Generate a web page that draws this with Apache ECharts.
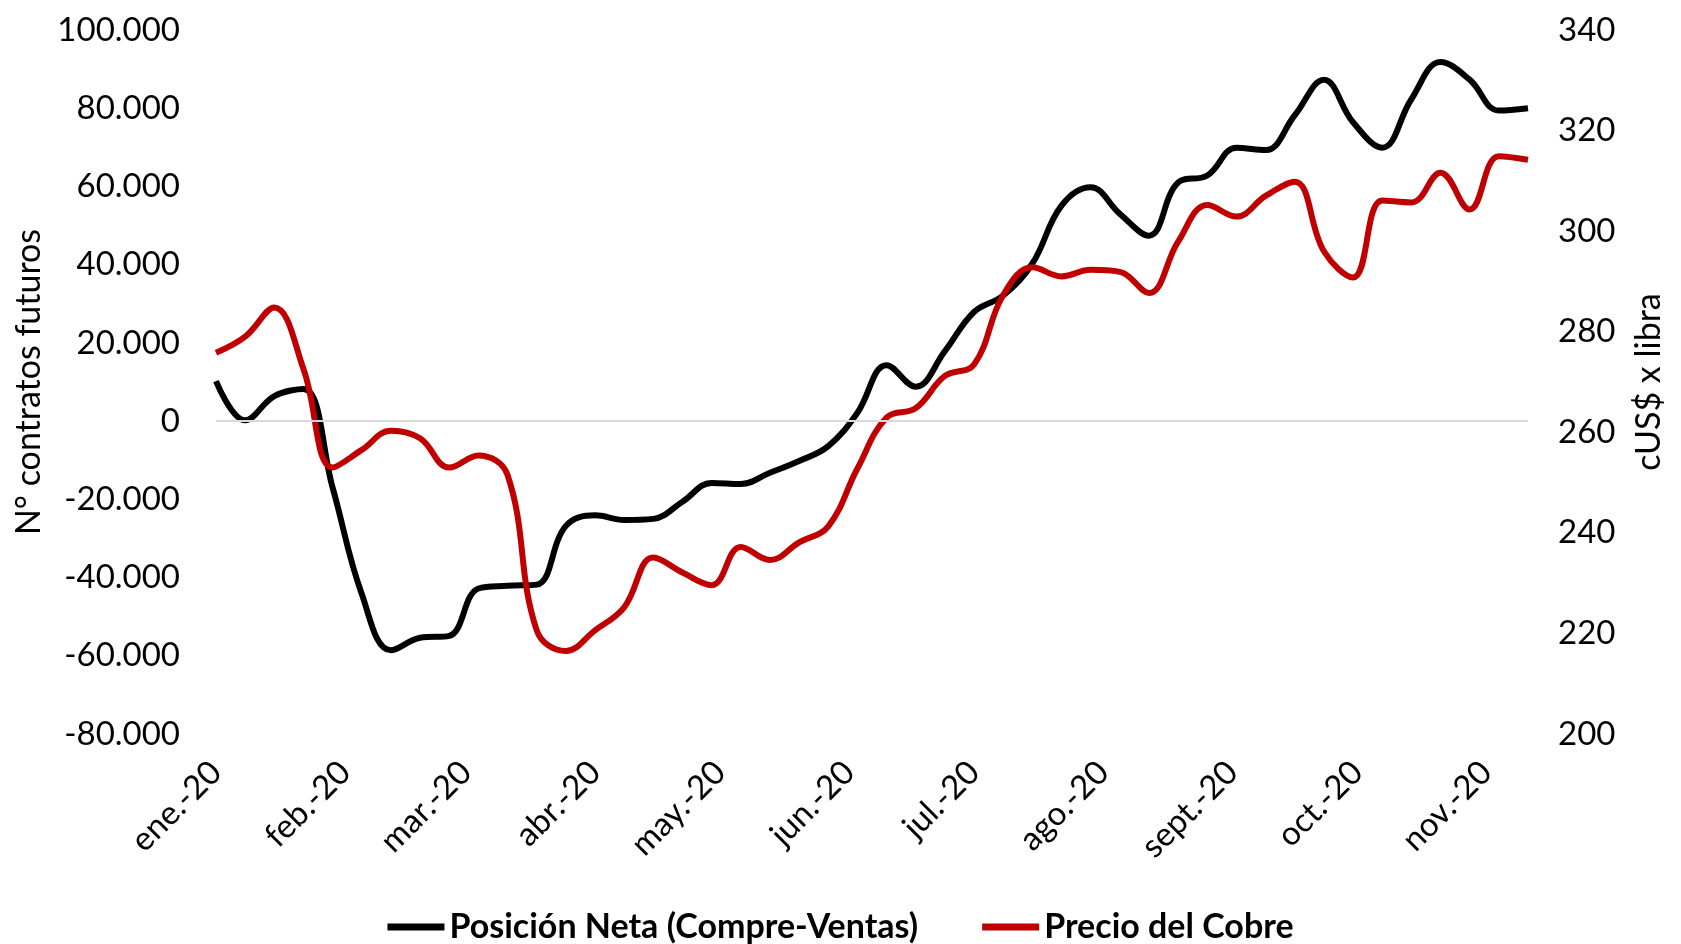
<!DOCTYPE html>
<html style="height: 100%; margin: 0">
<head>
<meta charset="UTF-8">
<title>Posición neta y precio del cobre</title>
</head>
<body style="height: 100%; margin: 0; background: #fff">
<div id="container" style="width:1681px; height:944px"></div>
<script type="text/javascript" src="https://cdn.jsdelivr.net/npm/echarts@6/dist/echarts.min.js"></script>
<script type="text/javascript">
	// fechas semanales (martes, informe CFTC)
	var fechas = [
		'2020-01-07','2020-01-14','2020-01-21','2020-01-28',
		'2020-02-04','2020-02-11','2020-02-18','2020-02-25',
		'2020-03-03','2020-03-10','2020-03-17','2020-03-24','2020-03-31',
		'2020-04-07','2020-04-14','2020-04-21','2020-04-28',
		'2020-05-05','2020-05-12','2020-05-19','2020-05-26',
		'2020-06-02','2020-06-09','2020-06-16','2020-06-23','2020-06-30',
		'2020-07-07','2020-07-14','2020-07-21','2020-07-28',
		'2020-08-04','2020-08-11','2020-08-18','2020-08-25',
		'2020-09-01','2020-09-08','2020-09-15','2020-09-22','2020-09-29',
		'2020-10-06','2020-10-13','2020-10-20','2020-10-27',
		'2020-11-03','2020-11-10','2020-11-17'
	];
	var posicionNeta = [
		10200, 200, 6400, 8200, -17000, -44200, -58600, -55400, -54900, -42800,
		-42100, -41800, -26800, -24100, -25300, -25000, -20600, -15800, -16100, -13200,
		-10200, -6400, 2150, 14300, 8800, 17900, 27900, 32100, 40300, 55100,
		59800, 53000, 47400, 61000, 62800, 69900, 69300, 78200, 87300, 76400,
		69900, 82300, 91800, 87300, 79400, 80000
	];
	var precioCobre = [
		275.8, 279.0, 284.8, 272.6, 253.0, 256.5, 260.3, 258.8, 253.0, 255.4,
		251.5, 220.6, 216.5, 220.6, 225.2, 235.1, 232.1, 229.6, 237.2, 234.6,
		238.1, 241.3, 252.8, 262.9, 264.8, 271.2, 273.5, 287.3, 292.8, 291.0,
		292.3, 291.9, 287.7, 297.9, 305.2, 302.9, 307.0, 309.8, 296.0, 290.8,
		306.1, 305.7, 311.6, 304.3, 314.9, 314.2
	];
	// marcas del eje x (una por mes) y sus textos
	var marcasMes = [
		'2020-01-07','2020-02-07','2020-03-07','2020-04-07','2020-05-07','2020-06-07',
		'2020-07-07','2020-08-07','2020-09-07','2020-10-07','2020-11-07'
	];
	var etiquetasMes = [
		'ene.-20','feb.-20','mar.-20','abr.-20','may.-20','jun.-20',
		'jul.-20','ago.-20','sept.-20','oct.-20','nov.-20'
	];

	// días transcurridos desde la primera fecha
	function aDia(s) {
		var p = s.split('-');
		var t = Date.UTC(+p[0], +p[1] - 1, +p[2]);
		var p0 = fechas[0].split('-');
		return Math.round((t - Date.UTC(+p0[0], +p0[1] - 1, +p0[2])) / 86400000);
	}
	var marcasD = marcasMes.map(aDia);
	var serieNeta = [], serieCobre = [];
	for (var i = 0; i < fechas.length; i++) {
		serieNeta.push([aDia(fechas[i]), posicionNeta[i]]);
		serieCobre.push([aDia(fechas[i]), precioCobre[i]]);
	}
	function miles(v) {
		var s = String(Math.abs(v)).replace(/\B(?=(\d{3})+(?!\d))/g, '.');
		return (v < 0 ? '-' : '') + s;
	}

	var fuente = 'Lato';
	var dom = document.getElementById("container");
	var myChart = echarts.init(dom);
	var option = {
		animation: false,
		textStyle: { fontFamily: fuente, color: '#000' },
		grid: { left: 216, right: 153, top: 30, bottom: 210 },
		legend: {
			top: 905,
			left: 'center',
			icon: 'rect',
			itemWidth: 57,
			itemHeight: 7,
			itemGap: 64,
			textStyle: { fontFamily: fuente, fontSize: 34, fontWeight: 'bold', color: '#000' },
			data: ['Posición Neta (Compre-Ventas)', 'Precio del Cobre']
		},
		xAxis: {
			type: 'value',
			min: 0,
			max: aDia(fechas[fechas.length - 1]),
			axisLine: { show: false },
			axisTick: { show: false },
			splitLine: { show: false },
			axisLabel: {
				customValues: marcasD,
				rotate: 45,
				margin: 33,
				fontSize: 33,
				fontFamily: fuente,
				color: '#000',
				formatter: function (v) {
					var k = marcasD.indexOf(v);
					return k >= 0 ? etiquetasMes[k] : '';
				}
			}
		},
		yAxis: [{
			type: 'value',
			min: -80000,
			max: 100000,
			interval: 20000,
			name: 'N° contratos futuros',
			nameLocation: 'middle',
			nameGap: 170,
			nameRotate: 90,
			nameTextStyle: { fontSize: 34, fontFamily: fuente, color: '#000' },
			axisLine: { show: false },
			axisTick: { show: false },
			splitLine: { show: false },
			axisLabel: { fontSize: 33, margin: 36, color: '#000', formatter: miles }
		}, {
			type: 'value',
			min: 200,
			max: 340,
			interval: 20,
			name: 'cUS$ x libra',
			nameLocation: 'middle',
			nameGap: 104,
			nameRotate: 90,
			nameTextStyle: { fontSize: 34, fontFamily: fuente, color: '#000' },
			axisLine: { show: false },
			axisTick: { show: false },
			splitLine: { show: false },
			axisLabel: { fontSize: 33, margin: 30, color: '#000' }
		}],
		series: [{
			name: 'Posición Neta (Compre-Ventas)',
			type: 'line',
			yAxisIndex: 0,
			smooth: 0.4,
			symbol: 'none',
			lineStyle: { color: '#000000', width: 6 },
			itemStyle: { color: '#000000' },
			markLine: {
				silent: true,
				symbol: 'none',
				label: { show: false },
				lineStyle: { color: '#d9d9d9', width: 2, type: 'solid' },
				data: [{ yAxis: 0 }]
			},
			z: 3,
			data: serieNeta
		}, {
			name: 'Precio del Cobre',
			type: 'line',
			yAxisIndex: 1,
			smooth: 0.4,
			symbol: 'none',
			lineStyle: { color: '#C00000', width: 6 },
			itemStyle: { color: '#C00000' },
			z: 4,
			data: serieCobre
		}]
	};
	myChart.setOption(option, true);
</script>
</body>
</html>
